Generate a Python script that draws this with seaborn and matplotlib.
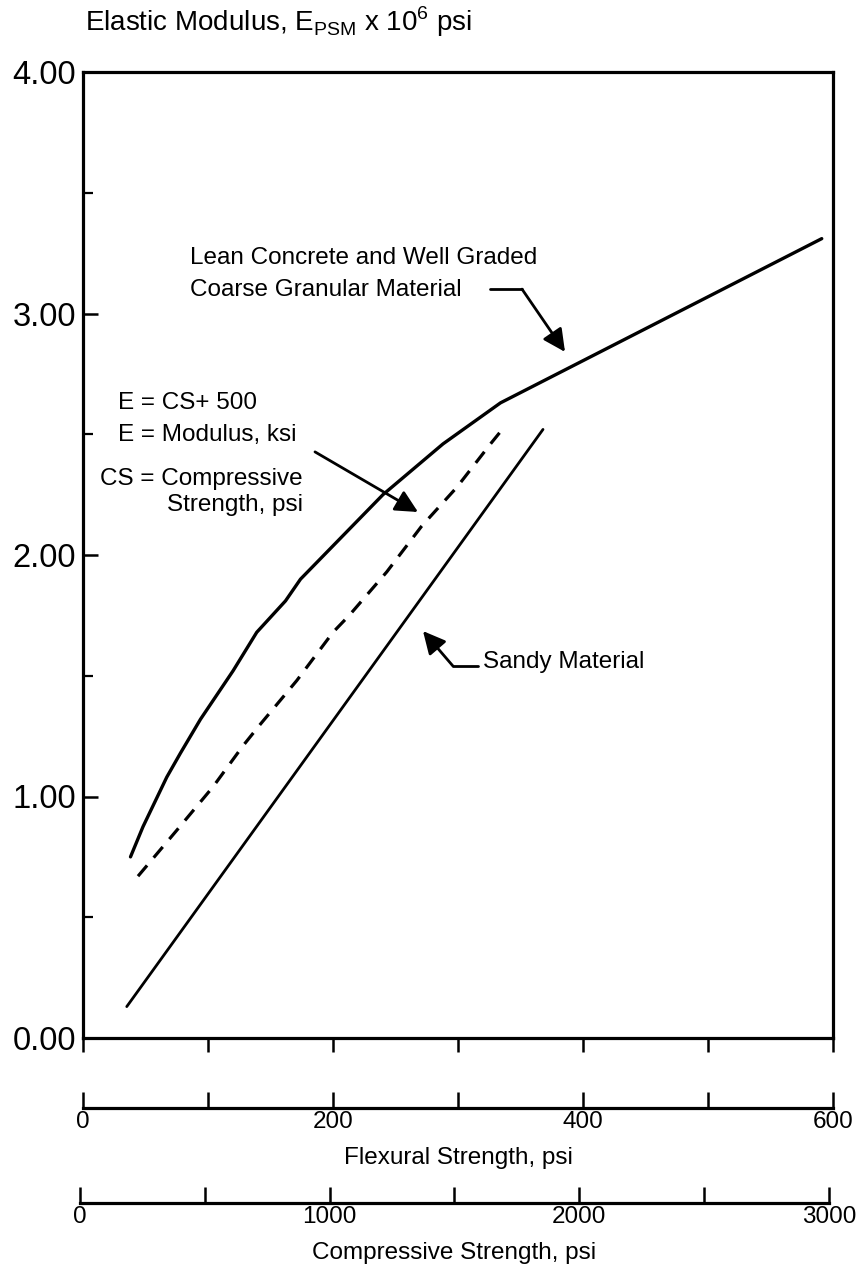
import numpy as np
import pandas as pd
import matplotlib
matplotlib.use("Agg")
import matplotlib.pyplot as plt
import seaborn as sns

sns.set_theme(style="white")
plt.rcParams['font.family'] = ['Liberation Sans', 'DejaVu Sans']
plt.rcParams['mathtext.fontset'] = 'custom'
plt.rcParams['mathtext.rm'] = 'Liberation Sans'

# Flexural strength (psi) vs elastic modulus (x 10^6 psi) for each material curve
lean_flex = [38, 48, 67, 78, 94, 120, 139, 162, 174, 240, 288, 334, 591]
lean_mod = [0.75, 0.875, 1.08, 1.18, 1.32, 1.52, 1.68, 1.81, 1.90, 2.25, 2.46, 2.63, 3.31]

cs_flex = [44, 75, 104, 128, 142, 171, 200, 213, 243, 271, 299, 326, 337]
cs_mod = [0.67, 0.86, 1.04, 1.21, 1.30, 1.48, 1.68, 1.75, 1.93, 2.12, 2.28, 2.46, 2.53]

sandy_flex = [35, 368]
sandy_mod = [0.13, 2.52]

modulus_ticks = [0, 1, 2, 3, 4]
modulus_labels = ["0.00", "1.00", "2.00", "3.00", "4.00"]
modulus_minor = [0.5, 1.5, 2.5, 3.5]
flex_ticks = [0, 100, 200, 300, 400, 500, 600]
flex_labels = ["0", "", "200", "", "400", "", "600"]
comp_ticks = [0, 500, 1000, 1500, 2000, 2500, 3000]
comp_labels = ["0", "", "1000", "", "2000", "", "3000"]

W, H = 862, 1268
fig = plt.figure(figsize=(W / 100, H / 100), dpi=100)
fig.patch.set_facecolor("white")


def fx(px):
    return px / W


def fy(py):
    return 1 - py / H


# Main plotting area
ax = fig.add_axes([fx(83), fy(1038), fx(833) - fx(83), fy(72) - fy(1038)])
ax.set_facecolor("white")

sns.lineplot(x=lean_flex, y=lean_mod, ax=ax, color="black", lw=2.4,
             sort=False, estimator=None)
sns.lineplot(x=cs_flex, y=cs_mod, ax=ax, color="black", lw=2.3,
             linestyle=(0, (4.4, 3.2)), sort=False, estimator=None)
sns.lineplot(x=sandy_flex, y=sandy_mod, ax=ax, color="black", lw=2.0,
             sort=False, estimator=None)

ax.set_xlim(0, 600)
ax.set_ylim(0, 4)
ax.set_xticks(flex_ticks)
ax.set_xticklabels([])
ax.set_yticks(modulus_ticks)
ax.set_yticklabels(modulus_labels)
ax.set_yticks(modulus_minor, minor=True)
ax.tick_params(axis="x", which="major", direction="out", length=10, width=1.8,
               color="black", bottom=True)
ax.tick_params(axis="y", which="major", direction="in", length=11, width=1.8,
               color="black", left=True, labelsize=23.5, pad=5, labelcolor="black")
ax.tick_params(axis="y", which="minor", direction="in", length=7, width=1.6,
               color="black", left=True)
for s in ax.spines.values():
    s.set_visible(True)
    s.set_color("black")
    s.set_linewidth(2.3)
ax.grid(False)

# Curve labels and leader arrows
txt = dict(fontsize=17.5, color="black")
head = "-|>,head_length=0.8,head_width=0.4"
ax.text(85.6, 3.230, "Lean Concrete and Well Graded", ha="left", va="center", **txt)
ax.text(85.6, 3.097, "Coarse Granular Material", ha="left", va="center", **txt)
ax.plot([325.6, 351.2], [3.101, 3.101], color="black", lw=2.0)
ax.annotate("", xy=(385.6, 2.841), xytext=(351.2, 3.101),
            arrowprops=dict(arrowstyle=head, color="black", lw=2.0,
                            shrinkA=0, shrinkB=0, mutation_scale=17))

ax.text(28, 2.629, "E = CS+ 500", ha="left", va="center", **txt)
ax.text(28, 2.497, "E = Modulus, ksi", ha="left", va="center", **txt)
ax.text(176, 2.315, "CS = Compressive", ha="right", va="center", **txt)
ax.text(176, 2.207, "Strength, psi", ha="right", va="center", **txt)
ax.annotate("", xy=(268, 2.178), xytext=(185.6, 2.427),
            arrowprops=dict(arrowstyle=head, color="black", lw=2.0,
                            shrinkA=0, shrinkB=0, mutation_scale=17))

ax.text(320, 1.557, "Sandy Material", ha="left", va="center", **txt)
ax.plot([296, 316], [1.540, 1.540], color="black", lw=2.0)
ax.annotate("", xy=(272, 1.685), xytext=(296, 1.540),
            arrowprops=dict(arrowstyle=head, color="black", lw=2.0,
                            shrinkA=0, shrinkB=0, mutation_scale=17))

fig.text(fx(85), fy(22),
         r"Elastic Modulus, E$_{\mathregular{PSM}}$ x 10$^{\mathregular{6}}$ psi",
         ha="left", va="center", fontsize=20, color="black")


def scale_axis(left, right, ypix, lim, ticks, labels, title):
    a = fig.add_axes([fx(left), fy(ypix), fx(right) - fx(left), 0.0001])
    a.set_facecolor("none")
    for name, s in a.spines.items():
        s.set_visible(name == "bottom")
    a.spines["bottom"].set_linewidth(2.3)
    a.spines["bottom"].set_color("black")
    a.set_xlim(*lim)
    a.set_yticks([])
    a.set_xticks(ticks)
    a.set_xticklabels(labels)
    a.tick_params(axis="x", direction="in", length=11.5, width=1.8, color="black",
                  bottom=True, labelsize=17.5, pad=2, labelcolor="black")
    a.set_xlabel(title, fontsize=17.5, color="black", labelpad=10)
    a.grid(False)
    return a


scale_axis(83, 833, 1108, (0, 600), flex_ticks, flex_labels, "Flexural Strength, psi")
scale_axis(80, 829, 1203, (0, 3000), comp_ticks, comp_labels, "Compressive Strength, psi")

fig.savefig("out.png", dpi=100, facecolor="white")
